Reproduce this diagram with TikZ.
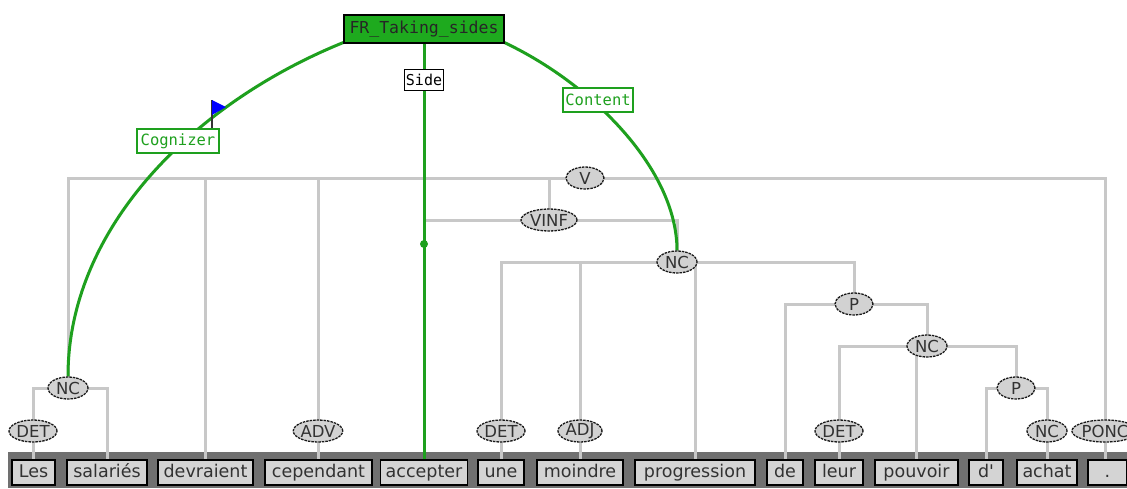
\documentclass[tikz,border=0pt]{standalone}
\usepackage{fontspec}
\setmainfont{DejaVu Sans}
\newfontfamily\labfont{DejaVu Sans Mono}
\newfontfamily\plainfont[Ligatures=ResetAll]{DejaVu Sans}
\usetikzlibrary{shapes.geometric}
\pgfdeclarelayer{back}
\pgfdeclarelayer{bg}
\pgfdeclarelayer{mid}
\pgfsetlayers{back,bg,mid,main}
\definecolor{fngreen}{RGB}{30,160,30}
\definecolor{framegreen}{RGB}{30,170,30}
\definecolor{treegray}{RGB}{200,200,200}
\definecolor{bargray}{RGB}{112,112,112}
\definecolor{boxgray}{RGB}{212,212,212}
\definecolor{posgray}{RGB}{210,210,210}
\definecolor{txtgray}{RGB}{50,50,50}
\tikzset{
 word/.style={draw=black, line width=1.5pt, fill=boxgray, text=txtgray, inner sep=0pt,
   minimum height=25pt, text height=12.5pt, text depth=3.5pt, font=\fontsize{17.5}{19}\selectfont},
 posnode/.style={ellipse, draw=black!90, line width=1.3pt, dash pattern=on 2.5pt off 1pt, fill=posgray,
   text=txtgray, inner sep=0pt, minimum height=22pt, font=\fontsize{16.5}{18}\selectfont},
 tree/.style={draw=treegray, line width=3pt},
 fe/.style={draw=fngreen, line width=3pt},
 felabel/.style={draw=fngreen, line width=1.2pt, fill=white, text=fngreen, inner sep=2pt,
   minimum height=24pt, font=\labfont\fontsize{15.5}{17}\selectfont},
}
\begin{document}
\begin{tikzpicture}[x=1pt,y=-1pt]
\useasboundingbox (0,0) rectangle (1127,488);
% words
\node[word, minimum width=43pt] (w1) at (33.5,472.5) {Les};
\node[word, minimum width=80pt] (w2) at (107,472.5) {salariés};
\node[word, minimum width=95pt] (w3) at (205.5,472.5) {devraient};
\node[word, minimum width=107pt] (w4) at (318.5,472.5) {cependant};
\node[word, minimum width=87pt] (w5) at (424,472.5) {accepter};
\node[word, minimum width=46pt] (w6) at (501,472.5) {une};
\node[word, minimum width=86pt] (w7) at (580,472.5) {moindre};
\node[word, minimum width=120pt] (w8) at (695,472.5) {progression};
\node[word, minimum width=36pt] (w9) at (785,472.5) {de};
\node[word, minimum width=48pt] (w10) at (839,472.5) {leur};
\node[word, minimum width=83pt] (w11) at (916.5,472.5) {pouvoir};
\node[word, minimum width=34pt] (w12) at (986,472.5) {\plainfont d'};
\node[word, minimum width=60pt] (w13) at (1047,472.5) {achat};
\node[word, minimum width=39pt] (w14) at (1107.5,472.5) {.};
% POS nodes
\node[posnode, minimum width=48pt] (det1) at (33,431) {DET};
\node[posnode, minimum width=40pt] (nc1) at (68,388) {NC};
\node[posnode, minimum width=48pt] (adv) at (318,431) {ADV};
\node[posnode, minimum width=48pt] (det2) at (501,431) {DET};
\node[posnode, minimum width=44pt] (adj) at (580,431) {ADJ};
\node[posnode, minimum width=48pt] (det3) at (839,431) {DET};
\node[posnode, minimum width=40pt] (nc4) at (1047,431) {NC};
\node[posnode, minimum width=60pt] (ponc) at (1105,431) {PONC};
\node[posnode, minimum width=38pt] (V) at (585,178) {V};
\node[posnode, minimum width=56pt] (vinf) at (549,220) {VINF};
\node[posnode, minimum width=40pt] (nc2) at (677,262) {NC};
\node[posnode, minimum width=38pt] (p1) at (854,304) {P};
\node[posnode, minimum width=40pt] (nc3) at (927,346) {NC};
\node[posnode, minimum width=38pt] (p2) at (1016,388) {P};
% frame and labels
\node[draw=black, line width=1.5pt, fill=framegreen, text=black!85, minimum width=160pt,
  minimum height=28pt, inner sep=0pt, font=\labfont\fontsize{16.5}{18}\selectfont] (frame) at (424,29) {FR\_Taking\_sides};
\node[draw=black, line width=1.2pt, fill=white, text=black, inner sep=1.5pt, minimum width=38pt,
  minimum height=21pt, font=\labfont\fontsize{15}{16}\selectfont] (side) at (424,80) {Side};
\node[felabel, minimum width=82pt] (cog) at (178,141) {Cognizer};
\node[felabel, minimum width=70pt] (cont) at (598,100) {Content};
\node[circle, fill=fngreen, inner sep=0pt, minimum size=8pt] (dot) at (424,244) {};
% flag
\draw[black!80, line width=1.5pt] (212,128) -- (212,100);
\fill[blue] (212,100) -- (226,107) -- (212,115) -- cycle;
% bar
\begin{pgfonlayer}{back}
\fill[bargray] (8,452) rectangle (1127,488);
\end{pgfonlayer}
% tree
\begin{pgfonlayer}{bg}
\draw[tree] (V.center) -| (nc1.center);
\draw[tree] (V.center) -| (w3.center);
\draw[tree] (V.center) -| (adv.center);
\draw[tree] (V.center) -| (vinf.center);
\draw[tree] (V.center) -| (ponc.center);
\draw[tree] (nc1.center) -| (det1.center);
\draw[tree] (nc1.center) -| (w2.center);
\draw[tree] (vinf.center) -| (w5.center);
\draw[tree] (vinf.center) -| (nc2.center);
\draw[tree] (nc2.center) -| (det2.center);
\draw[tree] (nc2.center) -| (adj.center);
\draw[tree] (nc2.center) -| (w8.center);
\draw[tree] (nc2.center) -| (p1.center);
\draw[tree] (p1.center) -| (w9.center);
\draw[tree] (p1.center) -| (nc3.center);
\draw[tree] (nc3.center) -| (det3.center);
\draw[tree] (nc3.center) -| (w11.center);
\draw[tree] (nc3.center) -| (p2.center);
\draw[tree] (p2.center) -| (w12.center);
\draw[tree] (p2.center) -| (nc4.center);
\draw[tree] (det1.center) -- (det1.center |- w1.center);
\draw[tree] (adv.center) -- (adv.center |- w4.center);
\draw[tree] (det2.center) -- (det2.center |- w6.center);
\draw[tree] (adj.center) -- (adj.center |- w7.center);
\draw[tree] (det3.center) -- (det3.center |- w10.center);
\draw[tree] (nc4.center) -- (nc4.center |- w13.center);
\draw[tree] (ponc.center) -- (ponc.center |- w14.center);
\end{pgfonlayer}
% frame elements
\begin{pgfonlayer}{mid}
\draw[fe] (frame.south) -- (dot.center) -- (w5.north);
\draw[fe] ([xshift=2pt,yshift=2pt]frame.south west) .. controls (195,102) and (68,227) .. (nc1.north);
\draw[fe] ([xshift=-2pt,yshift=2pt]frame.south east) .. controls (593,84) and (677,170) .. (nc2.north);
\end{pgfonlayer}
\end{tikzpicture}
\end{document}
